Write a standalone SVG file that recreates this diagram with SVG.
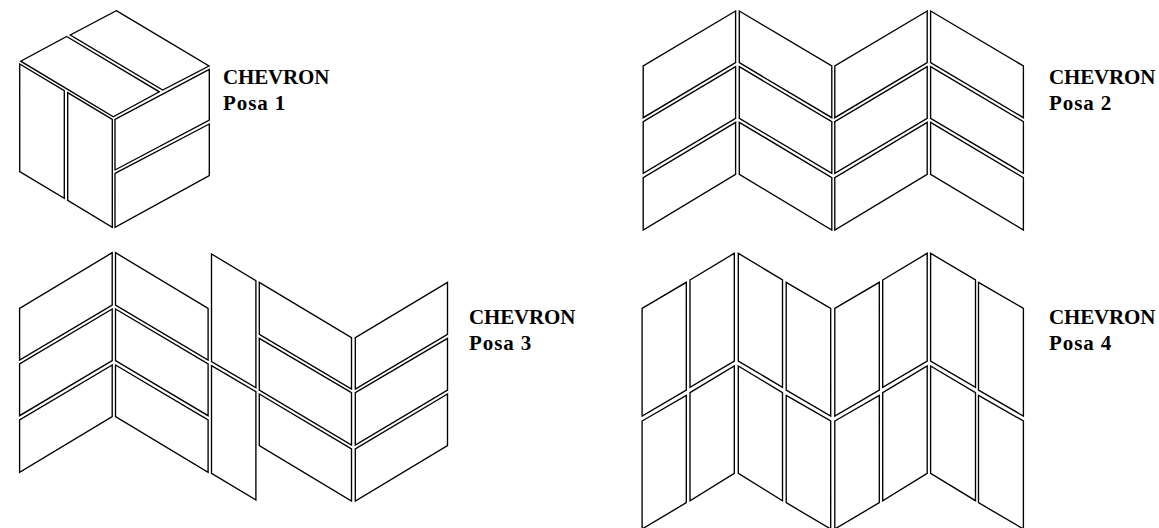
<svg xmlns="http://www.w3.org/2000/svg" width="1159" height="528" viewBox="0 0 1159 528">
<style>
polygon{fill:none;stroke:#000;stroke-width:1.35;stroke-linejoin:miter}
text{font-family:"Liberation Serif","Times New Roman",serif;font-weight:700;font-size:21px;fill:#000}
.p{letter-spacing:.9px}
.c{letter-spacing:-.15px}
</style>
<rect width="1159" height="528" fill="#fff"/>
<g id="posa1">
<polygon points="116.3,10.7 209,66 162.7,90 70.3,35"/>
<polygon points="66.7,36.5 159.3,91.8 113.3,116.8 20.7,61.2"/>
<polygon points="19.7,64 64.3,90.7 64.3,198.3 19.7,171.7"/>
<polygon points="67.7,92.7 112.3,119.3 112.3,227.3 67.7,200.3"/>
<polygon points="115,119.3 209.3,69.3 209.3,120 115,170"/>
<polygon points="115,173.3 209.3,124 209.3,175.7 115,227.3"/>
<text class="c" x="223" y="84">CHEVRON</text>
<text class="p" x="223" y="109.5">Posa 1</text>
</g>
<g id="posa2">
<polygon points="735.6,11 643.2,66 643.2,117.7 735.6,62.7"/>
<polygon points="735.6,66.7 643.2,121.7 643.2,173.3 735.6,118.3"/>
<polygon points="735.6,122.3 643.2,177.7 643.2,230 735.6,174.3"/>
<polygon points="739.3,11 831.8,66 831.8,117.7 739.3,62.7"/>
<polygon points="739.3,66.7 831.8,121.7 831.8,173.3 739.3,118.3"/>
<polygon points="739.3,122.3 831.8,177.7 831.8,230 739.3,174.3"/>
<polygon points="927.2,11 834.8,66 834.8,117.7 927.2,62.7"/>
<polygon points="927.2,66.7 834.8,121.7 834.8,173.3 927.2,118.3"/>
<polygon points="927.2,122.3 834.8,177.7 834.8,230 927.2,174.3"/>
<polygon points="930.6,11 1023.4,66 1023.4,117.7 930.6,62.7"/>
<polygon points="930.6,66.7 1023.4,121.7 1023.4,173.3 930.6,118.3"/>
<polygon points="930.6,122.3 1023.4,177.7 1023.4,230 930.6,174.3"/>
<text class="c" x="1049" y="84">CHEVRON</text>
<text class="p" x="1049" y="109.5">Posa 2</text>
</g>
<g id="posa3">
<polygon points="112.2,252.7 19.6,308.3 19.6,360 112.2,305"/>
<polygon points="112.2,309 19.6,364 19.6,415.7 112.2,360.7"/>
<polygon points="112.2,365 19.6,420 19.6,472.3 112.2,416.7"/>
<polygon points="115.5,252.7 208.1,308.3 208.1,360 115.5,305"/>
<polygon points="115.5,309 208.1,364 208.1,415.7 115.5,360.7"/>
<polygon points="115.5,365 208.1,420 208.1,472.3 115.5,416.7"/>
<polygon points="211.5,254 255.9,280.7 255.9,387.7 211.5,361.7"/>
<polygon points="211.5,365.7 255.9,391.7 255.9,500 211.5,473.3"/>
<polygon points="259.3,282.3 351.5,337.7 351.5,389 259.3,334.3"/>
<polygon points="259.3,338.3 351.5,392.7 351.5,445 259.3,390"/>
<polygon points="259.3,394 351.5,449 351.5,501 259.3,445.7"/>
<polygon points="447.5,282.3 355.3,337.7 355.3,389 447.5,334.3"/>
<polygon points="447.5,338.3 355.3,392.7 355.3,445 447.5,390"/>
<polygon points="447.5,394 355.3,449 355.3,501 447.5,445.7"/>
<text class="c" x="469" y="324">CHEVRON</text>
<text class="p" x="469" y="349.5">Posa 3</text>
</g>
<g id="posa4">
<polygon points="642.1,308.3 686.3,282.3 686.3,390 642.1,416"/>
<polygon points="690,280 734.3,253.3 734.3,361 690,387.3"/>
<polygon points="738.3,253.3 782.5,280 782.5,387.3 738.3,361"/>
<polygon points="786.2,282.3 830.7,308.3 830.7,416 786.2,390"/>
<polygon points="834.8,308.3 879.3,282.3 879.3,390 834.8,416"/>
<polygon points="882.7,280 927.2,253.3 927.2,361 882.7,387.3"/>
<polygon points="930.6,253.3 975.5,280 975.5,387.3 930.6,361"/>
<polygon points="978.5,282.3 1023.4,308.3 1023.4,416 978.5,390"/>
<polygon points="642.1,421 686.3,395.3 686.3,502.7 642.1,529"/>
<polygon points="690,392.7 734.3,366 734.3,473.3 690,500.7"/>
<polygon points="738.3,366 782.5,392.7 782.5,500.7 738.3,473.3"/>
<polygon points="786.2,395.3 830.7,421 830.7,529 786.2,502.7"/>
<polygon points="834.8,421 879.3,395.3 879.3,502.7 834.8,529"/>
<polygon points="882.7,392.7 927.2,366 927.2,473.3 882.7,500.7"/>
<polygon points="930.6,366 975.5,392.7 975.5,500.7 930.6,473.3"/>
<polygon points="978.5,395.3 1023.4,421 1023.4,529 978.5,502.7"/>
<text class="c" x="1049" y="324">CHEVRON</text>
<text class="p" x="1049" y="349.5">Posa 4</text>
</g>
</svg>
